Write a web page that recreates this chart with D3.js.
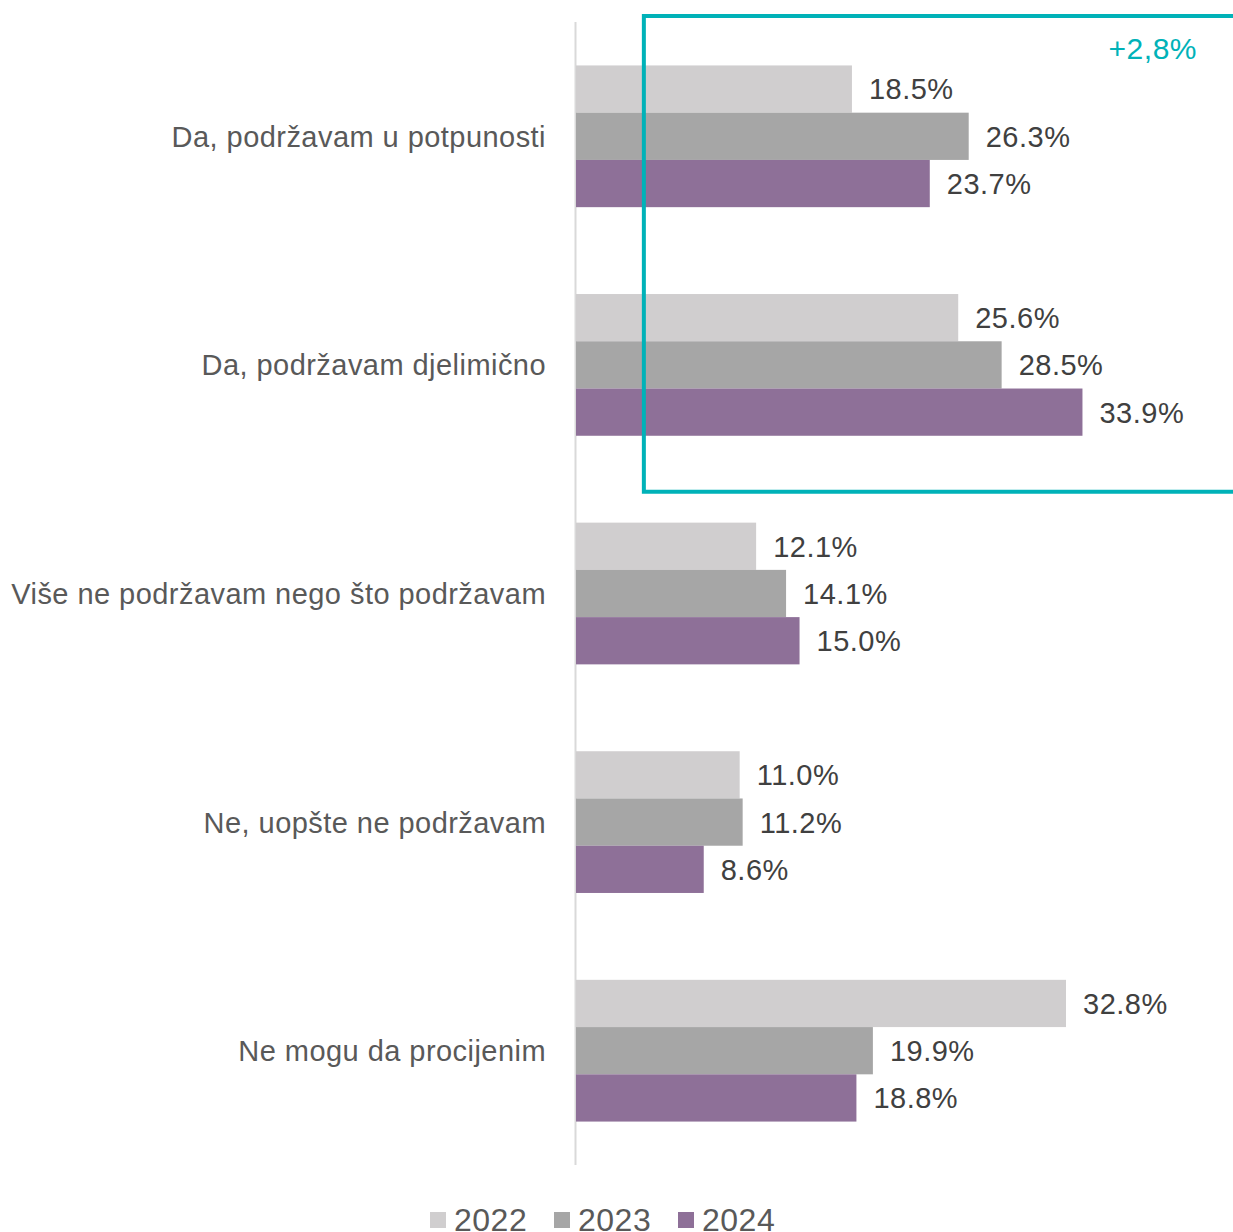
<!DOCTYPE html>
<html><head><meta charset="utf-8">
<script src="https://cdn.jsdelivr.net/npm/d3@7"></script>
<style>body{margin:0;background:#fff}svg{display:block}</style>
</head><body><svg id="c" width="1233" height="1232"></svg>
<script>
const categories = ["Da, podržavam u potpunosti","Da, podržavam djelimično","Više ne podržavam nego što podržavam","Ne, uopšte ne podržavam","Ne mogu da procijenim"];
const years = ["2022","2023","2024"];
const values2022 = [18.5,25.6,12.1,11.0,32.8];
const values2023 = [26.3,28.5,14.1,11.2,19.9];
const values2024 = [23.7,33.9,15.0,8.6,18.8];
const colors = ["#D0CECF","#A6A6A6","#8E7098"];
const annotation = "+2,8%";

const series = [values2022, values2023, values2024];
const svg = d3.select("#c");
const FONT = "'Liberation Sans', Arial, sans-serif";
const x = d3.scaleLinear().domain([0, 32.8]).range([575, 1066]);
const y = d3.scaleBand().domain(categories).range([22, 1165]).paddingInner(0.38).paddingOuter(0.19);
const y1 = d3.scaleBand().domain(years).range([0, y.bandwidth()]);

// axis line
svg.append("line").attr("x1",575.5).attr("x2",575.5).attr("y1",22).attr("y2",1165)
  .attr("stroke","#D9D9D9").attr("stroke-width",2);

const g = svg.append("g");
categories.forEach((c, i) => {
  years.forEach((yr, j) => {
    const v = series[j][i];
    g.append("rect").attr("x", x(0)+1).attr("y", y(c)+y1(yr))
      .attr("width", x(v)-x(0)-1).attr("height", y1.bandwidth())
      .attr("fill", colors[j]);
    g.append("text").attr("x", x(v)+17).attr("y", y(c)+y1(yr)+y1.bandwidth()/2)
      .attr("dy","0.36em").attr("font-family",FONT).attr("font-size",29).attr("letter-spacing",0.5)
      .attr("fill","#404040").text(v.toFixed(1)+"%");
  });
  svg.append("text").attr("x",546).attr("y",y(c)+y.bandwidth()/2).attr("dy","0.36em")
    .attr("text-anchor","end").attr("font-family",FONT).attr("font-size",29).attr("letter-spacing",0.45)
    .attr("fill","#595959").text(c);
});

// annotation box
const bx = x(4.6), by = 16, by2 = y(categories[1]) + y.bandwidth() + 56;
svg.append("path").attr("d", `M1240,${by} H${bx} V${by2} H1240`)
  .attr("fill","none").attr("stroke","#00B2B8").attr("stroke-width",4);
svg.append("text").attr("x",1197).attr("y",59).attr("text-anchor","end")
  .attr("font-family",FONT).attr("font-size",30).attr("letter-spacing",0.5).attr("fill","#00B2B8").text(annotation);

// legend
const lx = [430, 554, 678];
years.forEach((yr, j) => {
  svg.append("rect").attr("x", lx[j]).attr("y", 1212).attr("width",16).attr("height",16).attr("fill",colors[j]);
  svg.append("text").attr("x", lx[j]+24).attr("y", 1231).attr("font-family",FONT).attr("font-size",32)
    .attr("letter-spacing",0.5).attr("fill","#595959").text(yr);
});
</script></body></html>
